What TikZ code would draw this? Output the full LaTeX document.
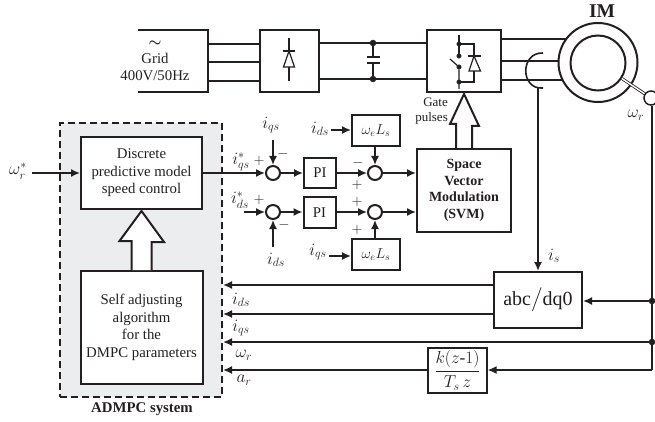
\documentclass[tikz,border=0pt]{standalone}
\usepackage{amsmath,amssymb}
\usepackage{fontspec}
\setmainfont{Liberation Serif}
\usetikzlibrary{arrows.meta,calc}
\definecolor{inkblack}{HTML}{231F20}
\definecolor{panelgray}{HTML}{ECEDEF}
\tikzset{
blockbox/.style={rectangle, draw=inkblack, fill=white, line width=2pt, inner sep=0pt, align=center, text=inkblack, font=\fontsize{14.8}{17.5}\selectfont},
mathbox/.style={blockbox, font=\fontsize{14.4}{17}\selectfont},
sumnode/.style={circle, draw=inkblack, fill=white, line width=2pt, inner sep=0pt, minimum size=14pt},
dotnode/.style={circle, draw=inkblack, fill=inkblack, inner sep=0pt, minimum size=5pt},
textnode/.style={inner sep=0pt, text=inkblack, font=\fontsize{14.8}{17.5}\selectfont},
signnode/.style={inner sep=0pt, text=inkblack, font=\fontsize{14.4}{17}\selectfont},
mathlabel/.style={inner sep=0pt, text=inkblack, font=\fontsize{17.28}{20}\selectfont},
smalltext/.style={inner sep=0pt, text=inkblack, align=right, font=\fontsize{13}{14.5}\selectfont},
signal/.style={draw=inkblack, line width=1.6pt},
signalarrow/.style={signal, -{Latex[length=9pt,width=8pt]}},
powerline/.style={draw=inkblack, line width=2.4pt},
thinline/.style={draw=inkblack, line width=1.2pt},
hollowarrow/.style={draw=inkblack, fill=white, line width=2pt, line join=miter},
}
\begin{document}
\begin{tikzpicture}[x=1pt,y=-1pt]
    \useasboundingbox (0,0) rectangle (655,422);
    % control panel
    \node[rectangle, draw=inkblack, fill=panelgray, dash pattern=on 7pt off 4pt, line width=2pt, inner sep=0pt, minimum width=162pt, minimum height=274pt] at (141,260) (panel) {};
    \node[textnode] at (142,409) (paneltitle) {\bfseries ADMPC system};
    \node[blockbox, minimum width=121pt, minimum height=72pt] at (141.5,173) (discrete) {Discrete\\predictive model\\speed control};
    \node[blockbox, minimum width=122pt, minimum height=113pt] at (141.5,327.5) (selfadjust) {Self adjusting\\algorithm\\for the\\DMPC parameters};
    \draw[hollowarrow] ([xshift=-10pt]selfadjust.north) -- ++(0,-29) -- ++(-12,0) -- ([yshift=-1pt]discrete.south) -- ++(22.5,31) -- ++(-12.5,0) -- ([xshift=10pt]selfadjust.north);
    \coordinate (wrefstart) at (32,173);
    \node[mathlabel] at (18,171) (wreflabel) {$\omega_r^{*}$};
    \draw[signalarrow] (wrefstart) -- (discrete.west);

    % power stage
    \coordinate (gridtl) at (138,30);
    \coordinate (gridbl) at (138,92);
    \node[signnode] at (155,44) (gridsymbol) {$\boldsymbol{\sim}$};
    \node[textnode, align=center] at (155,67) (gridlabel) {Grid\\400V/50Hz};
    \node[blockbox, fill=none, minimum width=59pt, minimum height=62pt] at (289.5,61) (rectifier) {};
    \node[blockbox, fill=none, minimum width=74pt, minimum height=62pt] at (464,61) (inverter) {};
    \draw[draw=inkblack, line width=2pt] (gridtl) -- (208,30) coordinate (gridtr) -- (208,92) coordinate (gridbr) -- (gridbl);
    \foreach \y in {44,62,81}{
      \coordinate (gridout) at (208,\y);
      \draw[powerline] (gridout) -- (gridout -| rectifier.west);
    }
    \coordinate (captop) at (373,43);
    \coordinate (capbot) at (373,79);
    \node[dotnode, minimum size=6pt] at (captop) (capdottop) {};
    \node[dotnode, minimum size=6pt] at (capbot) (capdotbot) {};
    \draw[powerline] (captop -| rectifier.east) -- (captop -| inverter.west);
    \draw[powerline] (capbot -| rectifier.east) -- (capbot -| inverter.west);
    \draw[powerline] (capdottop) -- (373,57);
    \draw[powerline] (capdotbot) -- (373,63);
    \draw[powerline] (366.5,57) -- (379.5,57);
    \draw[powerline] (366.5,63) -- (379.5,63);
    % rectifier diode
    \draw[thinline] (289,38) -- (289,81);
    \draw[thinline] (283,51) -- (295,51);
    \draw[thinline, fill=white] (289,51) -- (283.5,67) -- (294.5,67) -- cycle;
    % inverter switch
    \node[dotnode, minimum size=4.5pt] at (459,44) (invdot1) {};
    \node[dotnode, minimum size=4.5pt] at (459,56) (invdot2) {};
    \node[dotnode, minimum size=4.5pt] at (459,67) (invdot3) {};
    \node[dotnode, minimum size=4.5pt] at (459,82) (invdot4) {};
    \draw[thinline] (459,35) -- (invdot2);
    \draw[thinline] (450,59) -- (invdot3) -- (459,89);
    \draw[thinline] (invdot1) -- (474,44) -- (474,82) -- (invdot4);
    \draw[thinline] (468,56) -- (481,56);
    \draw[thinline, fill=white] (474,56) -- (469,71) -- (480.5,71) -- cycle;
    % motor
    \node[circle, draw=inkblack, line width=2pt, inner sep=0pt, minimum size=79pt] at (598,62.5) (statorring) {};
    \node[circle, draw=inkblack, line width=2pt, inner sep=0pt, minimum size=55pt] at (598,63) (rotorring) {};
    \node[textnode, font=\fontsize{19.5}{22}\selectfont] at (602,11) (motorlabel) {\bfseries IM};
    \coordinate (phasea) at (566,39);
    \coordinate (phaseb) at (559,61);
    \coordinate (phasec) at (563,80);
    \draw[powerline] (phasea -| inverter.east) -- (phasea);
    \draw[signal] (phaseb -| inverter.east) -- (phaseb);
    \draw[powerline] (phasec -| inverter.east) -- (phasec);
    \draw[draw=inkblack, line width=.8pt, double=white, double distance=1.4pt] (rotorring.-33) -- (651,98) coordinate (shaftend);
    \node[sumnode, line width=1.5pt] at (shaftend) (encoder) {};
    \node[mathlabel] at (636,115) (wmotorlabel) {$\omega_r$};
    % current sensor
    \coordinate (clamptop) at (543,53);
    \coordinate (clampbot) at (543,88);
    \draw[signal] (clamptop) .. controls (520,52) and (520,90) .. (clampbot);
    \node[mathlabel] at (554,256) (islabel) {$i_s$};

    % inner loops
    \node[sumnode] at (273,173) (sumqa) {};
    \node[sumnode] at (273,212) (sumda) {};
    \node[sumnode] at (375,173) (sumqb) {};
    \node[sumnode] at (375,212) (sumdb) {};
    \node[blockbox, minimum width=32pt, minimum height=30pt] at (320,173) (piq) {PI};
    \node[blockbox, minimum width=32pt, minimum height=31pt] at (319.5,212.5) (pid) {PI};
    \node[mathbox, minimum width=48pt, minimum height=31pt] at (376,130.5) (gaintop) {$\omega_e L_s$};
    \node[mathbox, minimum width=48pt, minimum height=31pt] at (376,254.5) (gainbot) {$\omega_e L_s$};
    \node[blockbox, font=\bfseries\fontsize{14}{16.5}\selectfont, minimum width=94pt, minimum height=83pt] at (464,190.5) (svm) {Space\\Vector\\Modulation\\(SVM)};
    \draw[signalarrow] (discrete.east) -- (sumqa);
    \draw[signalarrow] (sumqa) -- (piq);
    \draw[signalarrow] (piq) -- (sumqb);
    \draw[signalarrow] (sumqb) -- (sumqb -| svm.west);
    \coordinate (idrefstart) at (244,212);
    \draw[signalarrow] (idrefstart) -- (sumda);
    \draw[signalarrow] (sumda) -- (sumda -| pid.west);
    \draw[signalarrow] (sumdb -| pid.east) -- (sumdb);
    \draw[signalarrow] (sumdb) -- (sumdb -| svm.west);
    \draw[signalarrow] (gaintop.south -| sumqb) -- (sumqb);
    \draw[signalarrow] (gainbot.north -| sumdb) -- (sumdb);
    \coordinate (iqtop) at (273,140);
    \coordinate (idbot) at (273,247);
    \coordinate (idgain) at (331,130);
    \coordinate (iqgain) at (329,256);
    \draw[signalarrow] (iqtop) -- (sumqa);
    \draw[signalarrow] (idbot) -- (sumda);
    \draw[signalarrow] (idgain) -- (idgain -| gaintop.west);
    \draw[signalarrow] (iqgain) -- (iqgain -| gainbot.west);
    \node[mathlabel] at (241,162) (iqreflabel) {$i_{qs}^{*}$};
    \node[mathlabel] at (240,200) (idreflabel) {$i_{ds}^{*}$};
    \node[mathlabel] at (271,125) (iqtoplabel) {$i_{qs}$};
    \node[mathlabel] at (276,260) (idbotlabel) {$i_{ds}$};
    \node[mathlabel] at (320,129) (idgainlabel) {$i_{ds}$};
    \node[mathlabel] at (318,252) (iqgainlabel) {$i_{qs}$};
    \node[signnode] at (259,161) (signa) {$+$};
    \node[signnode] at (283,154) (signb) {$-$};
    \node[signnode] at (259,200) (signc) {$+$};
    \node[signnode] at (284,225) (signd) {$-$};
    \node[signnode] at (358,163) (signe) {$-$};
    \node[signnode] at (357,185) (signf) {$+$};
    \node[signnode] at (357,202) (signg) {$+$};
    \node[signnode] at (357,230) (signh) {$+$};
    % gate pulses
    \draw[hollowarrow] ([xshift=-8pt]svm.north) -- ++(0,-24) -- ++(-6,0) -- ([yshift=-1pt]inverter.south) -- ++(15,32) -- ++(-7,0) -- ([xshift=8pt]svm.north);
    \node[smalltext, anchor=east] at (448,111) (gatelabel) {Gate\\pulses};

    % feedback
    \node[blockbox, font=\fontsize{20}{22}\selectfont, minimum width=88pt, minimum height=56pt] at (538,300) (abc) {abc$\big/$dq0};
    \node[blockbox, font=\fontsize{17.28}{20}\selectfont, line width=1.2pt, minimum width=59pt, minimum height=45pt] at (457.5,370.5) (kblock) {$\dfrac{k(z\text{-}1)}{T_s\,z}$};
    \coordinate (idsend) at (223,285);
    \coordinate (iqsend) at (223,314);
    \coordinate (wrend) at (223,342);
    \coordinate (arend) at (223,370);
    \coordinate (fbcorner) at (652,370);
    \node[dotnode, minimum size=6pt] at (652,301) (abcjunction) {};
    \node[dotnode, minimum size=6pt] at (652,342) (wrjunction) {};
    \draw[signal] (encoder.south -| fbcorner) -- (fbcorner);
    \draw[signalarrow] (fbcorner) -- (fbcorner -| kblock.east);
    \draw[signalarrow] (arend -| kblock.west) -- (arend);
    \draw[signalarrow] (abcjunction) -- (abcjunction -| abc.east);
    \draw[signalarrow] (wrjunction) -- (wrend);
    \draw[signalarrow] (idsend -| abc.west) -- (idsend);
    \draw[signalarrow] (iqsend -| abc.west) -- (iqsend);
    \draw[signalarrow] (clampbot -| abc.north) -- (abc.north);
    \node[mathlabel] at (241,300) (idslabel) {$i_{ds}$};
    \node[mathlabel] at (241,328) (iqslabel) {$i_{qs}$};
    \node[mathlabel] at (244,355) (wrlabel) {$\omega_r$};
    \node[mathlabel] at (244,380) (arlabel) {$a_r$};
\end{tikzpicture}
\end{document}
